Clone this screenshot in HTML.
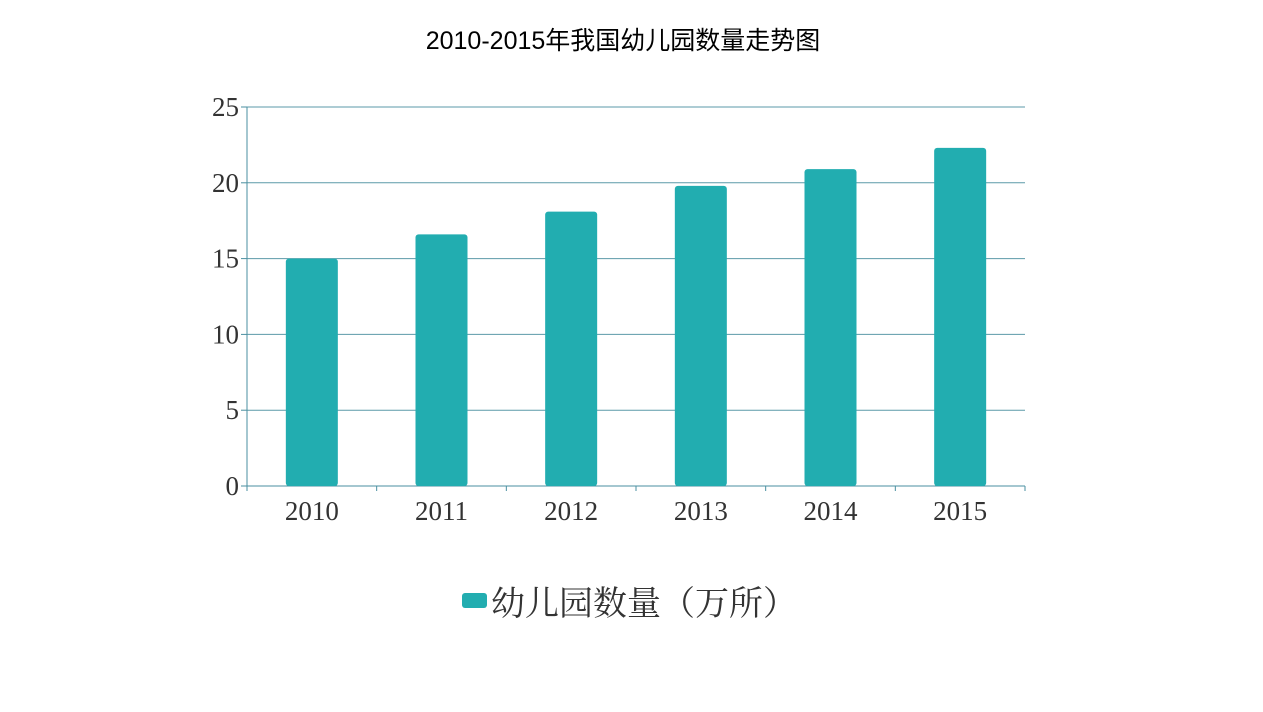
<!DOCTYPE html>
<html><head><meta charset="utf-8">
<style>
body{margin:0;background:#fff;width:1263px;height:707px;overflow:hidden}
</style></head>
<body>
<svg width="1263" height="707" id="chart">
<text x="623" y="49" text-anchor="middle" font-family="'Liberation Sans','Noto Sans CJK SC',sans-serif" font-size="25" fill="#000">2010-2015年我国幼儿园数量走势图</text>
<g id="grid"></g><g id="bars"></g><g id="axes"></g>
<g>
<rect x="462" y="593" width="25" height="15" rx="3" fill="#22adb0"/>
<text x="491" y="615" font-family="'Liberation Serif','Noto Serif CJK SC',serif" font-size="34" fill="#333">幼儿园数量（万所）</text>
</g>
</svg>
<script>
const categories=["2010","2011","2012","2013","2014","2015"];
const values=[15.0,16.6,18.1,19.8,20.9,22.3];
const yTicks=[0,5,10,15,20,25];
const NS="http://www.w3.org/2000/svg";
const x0=247,x1=1025,yB=486,yT=107,yMax=25;
const y=v=>yB-(v/yMax)*(yB-yT);
const bw=(x1-x0)/categories.length;
function mk(t,a,p){const e=document.createElementNS(NS,t);for(const k in a)e.setAttribute(k,a[k]);p.appendChild(e);return e;}
const grid=document.getElementById('grid'),bars=document.getElementById('bars'),axes=document.getElementById('axes');
yTicks.forEach(t=>{
 const l=mk('line',{x1:x0,x2:x1,y1:y(t),y2:y(t),stroke:t===0?'#4a8fa0':'#5b9aa8','stroke-width':1},grid);
 
 
 mk('line',{x1:x0-6,x2:x0,y1:y(t),y2:y(t),stroke:'#4a8fa0'},axes);
 const tx=mk('text',{x:x0-8,y:y(t)+9,'text-anchor':'end','font-family':"'Liberation Serif',serif",'font-size':27,fill:'#333'},axes);
 tx.textContent=t;
 
 
});
mk('line',{x1:x0,x2:x0,y1:yT,y2:yB,stroke:'#4a8fa0'},axes);
for(let i=0;i<=categories.length;i++){mk('line',{x1:x0+i*bw,x2:x0+i*bw,y1:yB,y2:yB+5,stroke:'#4a8fa0'},axes);}
categories.forEach((c,i)=>{
 const cx=x0+bw*(i+0.5);
 const r=mk('rect',{x:cx-26,y:y(values[i]),width:52,height:yB-y(values[i]),rx:3,fill:'#22adb0'},bars);
 
 
 const tx=mk('text',{x:cx,y:520,'text-anchor':'middle','font-family':"'Liberation Serif',serif",'font-size':27,fill:'#333'},axes);
 tx.textContent=c;
 
 
});
</script>
</body></html>
